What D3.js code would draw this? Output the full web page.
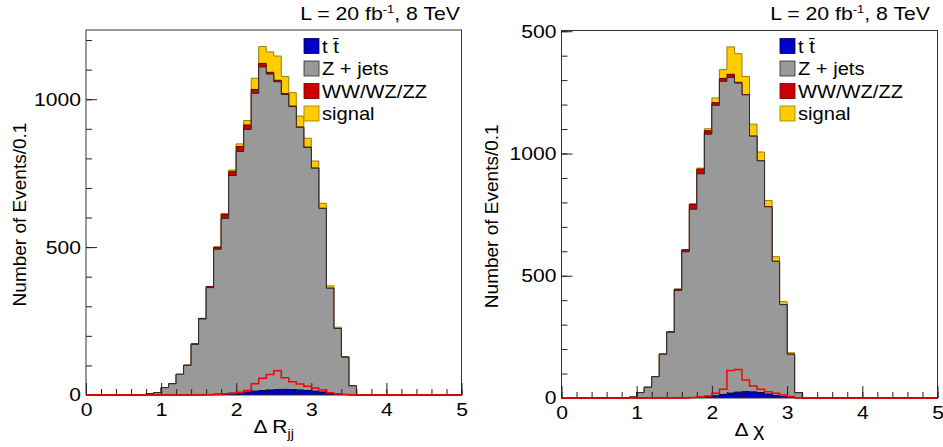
<!DOCTYPE html>
<html>
<head>
<meta charset="utf-8">
<script src="https://cdn.jsdelivr.net/npm/d3@7"></script>
<style>
  body { margin: 0; background: #fff; }
  svg text { font-family: "Liberation Sans", Arial, Helvetica, sans-serif; fill: #000; }
</style>
</head>
<body>
<svg id="chart" width="943" height="447"></svg>
<script>
// 50 bins of width 0.1 from 0 to 5
const binEdges = d3.range(51).map(i => i / 10);
const xTickValues = [0, 1, 2, 3, 4, 5];
const legendNames = ["t t\u0304", "Z + jets", "WW/WZ/ZZ", "signal"];

// left panel: delta R_jj
const ttbarDR = [0,0,0,0,0,0,0,0,0,0, 0,0,0,0,0,1,2,3,5,6, 8,10,13,15,17,18,19,18,17,15, 13,10,7,4,2,0,0,0,0,0, 0,0,0,0,0,0,0,0,0,0];
const zjetsDR = [0,0,0,0,0,0,0,0,5,8, 25,38,70,100,171,256,361,490,592,736, 815,888,1007,1094,1068,1041,997,957,888,822, 754,621,354,221,126,31,0,0,0,0, 0,0,0,0,0,0,0,0,0,0];
const dibosonDR = [0,0,0,0,0,0,0,0,0,0, 0,0,0,1,2,2,3,6,13,13, 17,15,13,12,6,5,3,2,1,1, 0,0,0,0,0,0,0,0,0,0, 0,0,0,0,0,0,0,0,0,0];
const signalDR = [0,0,0,0,0,0,0,0,0,0, 0,0,0,0,0,0,1,2,4,6, 9,15,38,57,69,82,58,45,37,30, 24,17,8,4,2,1,0,0,0,0, 0,0,0,0,0,0,0,0,0,0];
const yTicksDR = [0, 500, 1000];
const yTickLabelsDR = ["0", "500", "1000"];

// right panel: delta chi
const ttbarDC = [0,0,0,0,0,0,0,0,0,0, 0,0,0,0,0,0,1,2,3,5, 9,14,20,24,26,25,22,16,10,5, 2,0,0,0,0,0,0,0,0,0, 0,0,0,0,0,0,0,0,0,0];
const zjetsDC = [0,0,0,0,0,0,0,0,0,4, 22,44,87,179,269,440,597,770,914,1074, 1188,1281,1291,1264,1214,1046,948,766,549,377, 177,21,0,0,0,0,0,0,0,0, 0,0,0,0,0,0,0,0,0,0];
const dibosonDC = [0,0,0,0,0,0,0,0,0,0, 0,0,0,1,2,5,8,20,19,14, 11,12,13,3,1,0,0,0,0,0, 0,0,0,0,0,0,0,0,0,0, 0,0,0,0,0,0,0,0,0,0];
const signalDC = [0,0,0,0,0,0,0,0,0,0, 0,0,0,0,0,0,0,2,4,8, 19,36,112,117,74,49,36,26,19,12, 6,1,0,0,0,0,0,0,0,0, 0,0,0,0,0,0,0,0,0,0];
const yTicksDC = [0, 500, 1000, 1500];
const yTickLabelsDC = ["0", "500", "1000", "500"];

const fills = ["#0000cc", "#999999", "#cc0000", "#ffcc00"];
const edges = ["#000044", "#2a2a2a", "#660000", "#9a7d00"];
const sx = 1.14; // glyphs in the picture are a bit wide

const svg = d3.select("#chart");

function stepPoints(vals) {
  const pts = [];
  vals.forEach((v, i) => { pts.push([binEdges[i], v], [binEdges[i + 1], v]); });
  return pts;
}

function drawPanel(p) {
  const x = d3.scaleLinear().domain([0, 5]).range([p.x0, p.x1]);
  const y = d3.scaleLinear().domain([0, p.yMax]).range([p.yBot, p.yTop]);
  const g = svg.append("g");

  g.append("rect")
    .attr("x", p.x0).attr("y", p.yTop)
    .attr("width", p.x1 - p.x0).attr("height", p.yBot - p.yTop)
    .attr("fill", "#fff");

  // cumulative stack: ttbar, +Z, +diboson, +signal
  const s1 = p.tt;
  const s2 = s1.map((v, i) => v + p.zj[i]);
  const s3 = s2.map((v, i) => v + p.wv[i]);
  const s4 = s3.map((v, i) => v + p.sig[i]);
  const stacks = [s1, s2, s3, s4];

  const area = d3.area().x(d => x(d[0])).y0(y(0)).y1(d => y(d[1]));
  const line = d3.line().x(d => x(d[0])).y(d => y(d[1]));

  for (let k = 3; k >= 0; k--) {
    const pts = stepPoints(stacks[k]);
    g.append("path").attr("d", area(pts)).attr("fill", fills[k]);
    g.append("path").attr("d", line(pts))
      .attr("fill", "none").attr("stroke", edges[k]).attr("stroke-width", 1);
  }

  // frame
  g.append("rect")
    .attr("x", p.x0).attr("y", p.yTop)
    .attr("width", p.x1 - p.x0).attr("height", p.yBot - p.yTop)
    .attr("fill", "none").attr("stroke", "#333").attr("stroke-width", 1);

  // x axis
  const gxMinor = g.append("g").attr("transform", `translate(0,${p.yBot})`)
    .call(d3.axisBottom(x).tickValues(d3.range(0, 5.001, 0.2)).tickSize(-6).tickFormat(""));
  gxMinor.select(".domain").remove();
  const gx = g.append("g").attr("transform", `translate(0,${p.yBot})`)
    .call(d3.axisBottom(x).tickValues(xTickValues).tickSizeInner(-12).tickSizeOuter(0)
      .tickPadding(8).tickFormat(d3.format("d")));
  gx.select(".domain").remove();

  // y axis
  const gyMinor = g.append("g").attr("transform", `translate(${p.x0},0)`)
    .call(d3.axisLeft(y).tickValues(d3.range(0, p.yMax, 100)).tickSize(-6).tickFormat(""));
  gyMinor.select(".domain").remove();
  const gy = g.append("g").attr("transform", `translate(${p.x0},0)`)
    .call(d3.axisLeft(y).tickValues(p.yTicks).tickSizeInner(-11).tickSizeOuter(0)
      .tickPadding(5).tickFormat((d, i) => p.yLabels[i]));
  gy.select(".domain").remove();

  g.selectAll(".tick line").attr("stroke", "#222");
  [gx, gy].forEach(a => a.selectAll("text")
    .attr("font-size", 18.5).attr("font-family", null).attr("transform", `scale(${sx},1)`));
  gy.selectAll("text").attr("x", -5 / sx);

  // signal overlay drawn as a red outline
  g.append("path").attr("d", line(stepPoints(p.sig)))
    .attr("fill", "none").attr("stroke", "#ff0000").attr("stroke-width", 1.5);

  // legend
  const lg = g.append("g");
  legendNames.forEach((name, i) => {
    const cy = 46 + i * 22.5;
    lg.append("rect").attr("x", p.legendX).attr("y", cy - 7.5)
      .attr("width", 15).attr("height", 15)
      .attr("fill", fills[i]).attr("stroke", edges[i]).attr("stroke-width", 0.8);
    lg.append("text")
      .attr("transform", `translate(${p.legendX + 18},${cy + 6.5}) scale(1.15,1)`)
      .attr("font-size", 17.5).text(name);
  });

  // lumi label
  const t = g.append("text")
    .attr("transform", `translate(${p.titleRight},20) scale(1.18,1)`)
    .attr("text-anchor", "end").attr("font-size", 18);
  t.append("tspan").text("L = 20 fb");
  t.append("tspan").attr("dy", -7).attr("font-size", 11).text("-1");
  t.append("tspan").attr("dy", 7).text(", 8 TeV");

  // axis titles
  g.append("text")
    .attr("transform", `translate(${p.yLabelX},${(p.yTop + p.yBot) / 2 + 2}) rotate(-90)`)
    .attr("text-anchor", "middle").attr("font-size", 19)
    .text("Number of Events/0.1");

  const xt = g.append("text")
    .attr("transform", `translate(${(p.x0 + p.x1) / 2},${p.yBot + 38}) scale(${sx},1)`)
    .attr("text-anchor", "middle").attr("font-size", 18.5);
  xt.append("tspan").text(p.xTitle[0]);
  if (p.xTitle[1]) xt.append("tspan").attr("dy", 5).attr("font-size", 12.5).text(p.xTitle[1]);
}

drawPanel({
  x0: 86, x1: 461.5, yTop: 30, yBot: 395, yMax: 1234,
  tt: ttbarDR, zj: zjetsDR, wv: dibosonDR, sig: signalDR,
  yTicks: yTicksDR, yLabels: yTickLabelsDR,
  legendX: 304, titleRight: 460, yLabelX: 26, xTitle: ["\u0394 R", "jj"]
});

drawPanel({
  x0: 561.5, x1: 937.5, yTop: 30.5, yBot: 398, yMax: 1503,
  tt: ttbarDC, zj: zjetsDC, wv: dibosonDC, sig: signalDC,
  yTicks: yTicksDC, yLabels: yTickLabelsDC,
  legendX: 780, titleRight: 930, yLabelX: 498, xTitle: ["\u0394 \u03c7", ""]
});
</script>
</body>
</html>
